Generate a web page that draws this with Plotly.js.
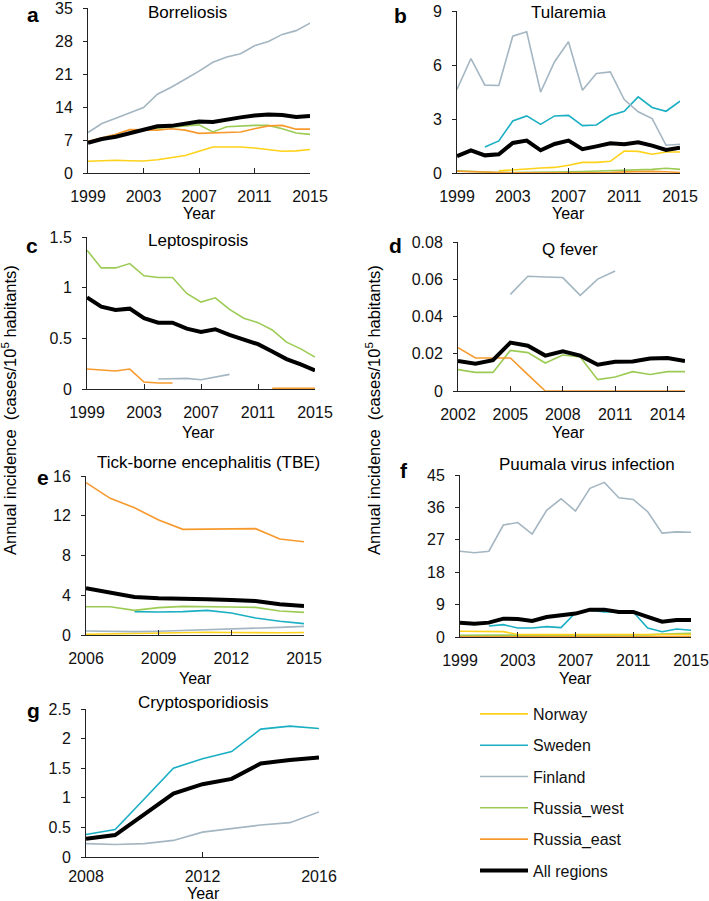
<!DOCTYPE html>
<html>
<head>
<meta charset="utf-8">
<script src="https://cdn.plot.ly/plotly-3.0.1.min.js"></script>
<style>html,body{margin:0;padding:0;background:#fff;}#chart{width:709px;height:901px;}</style>
</head>
<body>
<div id="chart"></div>
<script>
// ---------------- DATA ----------------
var seriesNames = ["Norway", "Sweden", "Finland", "Russia_west", "Russia_east", "All regions"];

// a: Borreliosis
var borYears = [1999,2000,2001,2002,2003,2004,2005,2006,2007,2008,2009,2010,2011,2012,2013,2014,2015];
var borNorway = [2.5,2.6,2.7,2.6,2.55,2.8,3.3,3.7,4.6,5.5,5.5,5.5,5.3,5.0,4.6,4.7,5.0];
var borFinland = [8.6,10.5,11.6,12.8,13.9,16.7,18.2,19.9,21.6,23.5,24.6,25.3,27.0,27.9,29.4,30.2,31.8];
var borRussiaWest = [6.5,7.3,7.8,8.5,9.2,9.5,9.8,10.0,10.2,8.7,9.8,10.0,10.1,10.1,9.4,8.5,8.2];
var borRussiaEast = [6.7,7.5,8.2,9.2,9.2,9.1,9.4,9.1,8.4,8.5,8.7,8.7,9.4,10.0,10.1,9.3,9.3];
var borAll = [6.4,7.2,7.7,8.4,9.1,9.9,10.0,10.5,10.9,10.8,11.4,11.8,12.2,12.4,12.3,11.9,12.1];

// b: Tularemia
var tulYears = [1999,2000,2001,2002,2003,2004,2005,2006,2007,2008,2009,2010,2011,2012,2013,2014,2015];
var tulNorway = [null,null,null,0.12,0.15,0.22,0.28,0.31,0.43,0.59,0.59,0.65,1.22,1.2,1.04,1.17,1.17];
var tulSweden = [null,null,1.45,1.78,2.89,3.17,2.7,3.17,3.2,2.63,2.67,3.19,3.43,4.23,3.64,3.43,3.99];
var tulFinland = [4.64,6.36,4.88,4.86,7.6,7.85,4.5,6.18,7.29,4.6,5.53,5.62,4.08,3.4,3.02,1.54,1.6];
var tulRussiaWest = [0.12,0.08,0.03,0.03,0.03,0.03,0.04,0.05,0.06,0.08,0.1,0.13,0.15,0.18,0.2,0.26,0.2];
var tulRussiaEast = [0.1,0.08,0.02,0.01,0.01,0.01,0.01,0.01,0.02,0.02,0.02,0.03,0.06,0.08,0.09,0.07,0.03];
var tulAll = [0.93,1.26,0.98,1.04,1.67,1.8,1.26,1.61,1.8,1.32,1.48,1.65,1.6,1.71,1.52,1.28,1.41];

// c: Leptospirosis
var lepYears = [1999,2000,2001,2002,2003,2004,2005,2006,2007,2008,2009,2010,2011,2012,2013,2014,2015];
var lepFinland = [null,null,null,null,null,0.098,0.105,0.105,0.092,0.115,0.144,null,null,null,null,null,null];
var lepRussiaWest = [1.37,1.195,1.195,1.238,1.117,1.10,1.10,0.943,0.858,0.90,0.786,0.698,0.655,0.583,0.462,0.396,0.314];
var lepRussiaEast = [0.197,0.19,0.177,0.197,0.069,0.059,0.059,null,null,null,null,null,null,0.006,0.005,0.005,0.006];
var lepAll = [0.904,0.812,0.78,0.793,0.698,0.655,0.655,0.596,0.563,0.59,0.534,0.491,0.442,0.37,0.295,0.242,0.183];

// d: Q fever
var qYears = [2002,2003,2004,2005,2006,2007,2008,2009,2010,2011,2012,2013,2014,2015];
var qFinland = [null,null,null,0.0519,0.0616,0.0612,0.0609,0.0514,0.0601,0.0644,null,null,null,null];
var qRussiaWest = [0.0115,0.01,0.01,0.0218,0.0206,0.015,0.0193,0.0183,0.0061,0.0075,0.0104,0.0089,0.0104,0.0104];
var qRussiaEast = [0.0233,0.0177,0.0177,0.0177,0.0088,0,0,0,0,0,0,0,0,0];
var qAll = [0.0161,0.0147,0.0165,0.026,0.0243,0.019,0.0213,0.019,0.0141,0.0157,0.0159,0.0174,0.0177,0.0161];

// e: Tick-borne encephalitis
var tbeYears = [2006,2007,2008,2009,2010,2011,2012,2013,2014,2015];
var tbeNorway = [0.07,0.12,0.17,0.2,0.25,0.28,0.25,0.22,0.22,0.25];
var tbeSweden = [null,null,2.35,2.31,2.35,2.48,2.21,1.71,1.38,1.14];
var tbeFinland = [0.4,0.34,0.34,0.37,0.44,0.54,0.6,0.67,0.77,0.87];
var tbeRussiaWest = [2.85,2.85,2.48,2.75,2.88,2.82,2.82,2.78,2.42,2.28];
var tbeRussiaEast = [15.33,13.75,12.81,11.57,10.63,10.63,10.63,10.7,9.66,9.39];
var tbeAll = [4.7,4.26,3.82,3.69,3.59,3.59,3.52,3.42,3.09,2.92];

// f: Puumala virus infection
var puuYears = [1999,2000,2001,2002,2003,2004,2005,2006,2007,2008,2009,2010,2011,2012,2013,2014,2015];
var puuNorway = [1.6,1.5,1.5,1.5,0.7,0.7,0.7,0.7,0.7,0.8,0.8,0.8,0.8,0.7,0.6,0.6,0.7];
var puuSweden = [null,null,3.06,3.43,2.5,2.5,2.88,2.6,6.77,7.42,6.96,6.96,6.96,2.5,1.48,2.23,1.86];
var puuFinland = [23.84,23.4,23.84,31.1,31.8,28.6,35.2,38.4,35.0,41.3,42.95,38.7,38.2,34.8,28.85,29.2,29.1];
var puuRussiaWest = [0.5,0.5,0.5,0.5,0.5,0.5,0.5,0.5,0.5,0.5,0.6,0.6,0.6,0.6,0.8,0.9,1.0];
var puuRussiaEast = [0.1,0.1,0.1,0.1,0.1,0.1,0.1,0.1,0.1,0.1,0.1,0.1,0.1,0.1,0.1,0.1,0.1];
var puuAll = [3.99,3.7,3.99,5.1,5.0,4.45,5.57,5.94,6.5,7.6,7.6,6.96,6.96,5.57,4.27,4.73,4.73];

// g: Cryptosporidiosis
var cryYears = [2008,2009,2010,2011,2012,2013,2014,2015,2016];
var crySweden = [0.379,0.464,0.98,1.5,1.66,1.78,2.16,2.21,2.17];
var cryFinland = [0.226,0.21,0.226,0.28,0.42,0.48,0.54,0.58,0.76];
var cryAll = [0.31,0.37,0.72,1.07,1.23,1.32,1.58,1.64,1.68];

// ---------------- STYLE ----------------
var W = 709, H = 901;
var FONT = "Liberation Sans, Arial, Helvetica, sans-serif";
var styles = {
  "Norway": {color: "#FFD21A", width: 1.6, rank: 1},
  "Sweden": {color: "#1AAFC3", width: 1.6, rank: 2},
  "Finland": {color: "#A4B6C2", width: 1.6, rank: 3},
  "Russia_west": {color: "#9CCB55", width: 1.6, rank: 4},
  "Russia_east": {color: "#F79A2E", width: 1.6, rank: 5},
  "All regions": {color: "#000000", width: 4, rank: 6}
};

var traces = [];
var shown = {};
function addSeries(xs, ys, name, axId) {
  var st = styles[name];
  var show = !shown[name];
  shown[name] = true;
  traces.push({
    type: "scatter", mode: "lines", x: xs, y: ys, name: name,
    xaxis: "x" + axId, yaxis: "y" + axId,
    line: {color: st.color, width: st.width},
    connectgaps: false, hoverinfo: "skip",
    legendgroup: name, showlegend: show, legendrank: st.rank
  });
}

// panel a
addSeries(borYears, borNorway, "Norway", "");
addSeries(borYears, borFinland, "Finland", "");
addSeries(borYears, borRussiaWest, "Russia_west", "");
addSeries(borYears, borRussiaEast, "Russia_east", "");
addSeries(borYears, borAll, "All regions", "");
// panel b
addSeries(tulYears, tulNorway, "Norway", "2");
addSeries(tulYears, tulSweden, "Sweden", "2");
addSeries(tulYears, tulFinland, "Finland", "2");
addSeries(tulYears, tulRussiaWest, "Russia_west", "2");
addSeries(tulYears, tulRussiaEast, "Russia_east", "2");
addSeries(tulYears, tulAll, "All regions", "2");
// panel c
addSeries(lepYears, lepFinland, "Finland", "3");
addSeries(lepYears, lepRussiaWest, "Russia_west", "3");
addSeries(lepYears, lepRussiaEast, "Russia_east", "3");
addSeries(lepYears, lepAll, "All regions", "3");
// panel d
addSeries(qYears, qFinland, "Finland", "4");
addSeries(qYears, qRussiaWest, "Russia_west", "4");
addSeries(qYears, qRussiaEast, "Russia_east", "4");
addSeries(qYears, qAll, "All regions", "4");
// panel e
addSeries(tbeYears, tbeNorway, "Norway", "5");
addSeries(tbeYears, tbeFinland, "Finland", "5");
addSeries(tbeYears, tbeSweden, "Sweden", "5");
addSeries(tbeYears, tbeRussiaWest, "Russia_west", "5");
addSeries(tbeYears, tbeRussiaEast, "Russia_east", "5");
addSeries(tbeYears, tbeAll, "All regions", "5");
// panel f
addSeries(puuYears, puuRussiaEast, "Russia_east", "6");
addSeries(puuYears, puuRussiaWest, "Russia_west", "6");
addSeries(puuYears, puuNorway, "Norway", "6");
addSeries(puuYears, puuSweden, "Sweden", "6");
addSeries(puuYears, puuFinland, "Finland", "6");
addSeries(puuYears, puuAll, "All regions", "6");
// panel g
addSeries(cryYears, cryFinland, "Finland", "7");
addSeries(cryYears, crySweden, "Sweden", "7");
addSeries(cryYears, cryAll, "All regions", "7");

// panel geometry in pixels: [x0, x1, yTop, yBottom]
var boxes = {
  "": [88, 310, 8, 173],
  "2": [457, 680, 11, 173],
  "3": [87, 315, 237, 389],
  "4": [458, 685, 242, 391],
  "5": [86, 304, 476, 635],
  "6": [460, 691, 475, 637],
  "7": [86, 319, 709, 857]
};
var xTicks = {
  "": [1999,2003,2007,2011,2015], "2": [1999,2003,2007,2011,2015], "3": [1999,2003,2007,2011,2015],
  "4": [2002,2005,2008,2011,2014], "5": [2006,2009,2012,2015], "6": [1999,2003,2007,2011,2015],
  "7": [2008,2012,2016]
};
var xRanges = {"": [1999,2015], "2": [1999,2015], "3": [1999,2015], "4": [2002,2015], "5": [2006,2015], "6": [1999,2015], "7": [2008,2016]};
var yTicks = {
  "": [0,7,14,21,28,35], "2": [0,3,6,9], "3": [0,0.5,1,1.5], "4": [0,0.02,0.04,0.06,0.08],
  "5": [0,4,8,12,16], "6": [0,9,18,27,36,45], "7": [0,0.5,1,1.5,2,2.5]
};
var yTickText = {
  "3": ["0","0.5","1","1.5"], "4": ["0","0.02","0.04","0.06","0.08"],
  "7": ["0","0.5","1","1.5","2","2.5"]
};

var layout = {
  width: W, height: H,
  margin: {l: 0, r: 0, t: 0, b: 0},
  paper_bgcolor: "#ffffff", plot_bgcolor: "rgba(0,0,0,0)",
  font: {family: FONT, size: 16, color: "#111"},
  showlegend: true,
  legend: {
    x: 475 / W, y: 1 - 697 / H, xanchor: "left", yanchor: "top",
    font: {family: FONT, size: 16, color: "#111"},
    tracegroupgap: 7.5, traceorder: "grouped", bgcolor: "rgba(0,0,0,0)",
    itemwidth: 48
  },
  annotations: [],
  shapes: []
};

Object.keys(boxes).forEach(function (id) {
  var b = boxes[id];
  var xa = {
    domain: [b[0] / W, b[1] / W], range: xRanges[id], anchor: "y" + id,
    showgrid: false, zeroline: false, showline: true, linecolor: "#222", linewidth: 1,
    ticks: "inside", ticklen: 5, tickcolor: "#222", tickmode: "array", tickvals: xTicks[id],
    tickfont: {family: FONT, size: 16, color: "#111"}, ticklabelstandoff: (id === "7" ? 5 : 9),
    ticklabeloverflow: "allow", fixedrange: true
  };
  var ya = {
    domain: [1 - b[3] / H, 1 - b[2] / H], range: [yTicks[id][0], yTicks[id][yTicks[id].length - 1]],
    anchor: "x" + id,
    showgrid: false, zeroline: false, showline: true, linecolor: "#222", linewidth: 1,
    ticks: "outside", ticklen: 4, tickcolor: "#222", tickmode: "array", tickvals: yTicks[id],
    tickfont: {family: FONT, size: 16, color: "#111"}, ticklabelstandoff: 7,
    ticklabeloverflow: "allow", fixedrange: true
  };
  if (yTickText[id]) ya.ticktext = yTickText[id];
  layout["xaxis" + id] = xa;
  layout["yaxis" + id] = ya;
});

function ann(text, px, py, size, bold, extra) {
  var a = {
    text: bold ? "<b>" + text + "</b>" : text,
    xref: "paper", yref: "paper", x: px / W, y: 1 - py / H,
    xanchor: "center", yanchor: "middle", showarrow: false,
    font: {family: FONT, size: size, color: "#000"}
  };
  if (extra) for (var k in extra) a[k] = extra[k];
  layout.annotations.push(a);
}

// panel titles
ann("Borreliosis", 188, 12, 17);
ann("Tularemia", 568, 12, 17);
ann("Leptospirosis", 198, 241, 17);
ann("Q fever", 570, 249, 17);
ann("Tick-borne encephalitis (TBE)", 208, 462, 17);
ann("Puumala virus infection", 587, 465, 17);
ann("Cryptosporidiosis", 203, 702, 17);

// panel letters
ann("a", 33, 15, 21, true);
ann("b", 400, 16, 21, true);
ann("c", 32, 245, 21, true);
ann("d", 395, 245, 21, true);
ann("e", 43, 477, 21, true);
ann("f", 404, 470, 21, true);
ann("g", 33, 710, 21, true);

// x axis titles
ann("Year", 199, 213, 16);
ann("Year", 568, 213, 16);
ann("Year", 198, 432, 16);
ann("Year", 568, 432, 16);
ann("Year", 195, 678, 16);
ann("Year", 575, 678, 16);
ann("Year", 203, 893, 16);

// y axis titles
var yTitle = "Annual incidence  (cases/10<sup>5</sup> habitants)";
ann(yTitle, 9, 410, 16.5, false, {textangle: -90});
ann(yTitle, 373, 410, 16.5, false, {textangle: -90});

Plotly.newPlot("chart", traces, layout, {staticPlot: true, displayModeBar: false});
</script>
</body>
</html>
